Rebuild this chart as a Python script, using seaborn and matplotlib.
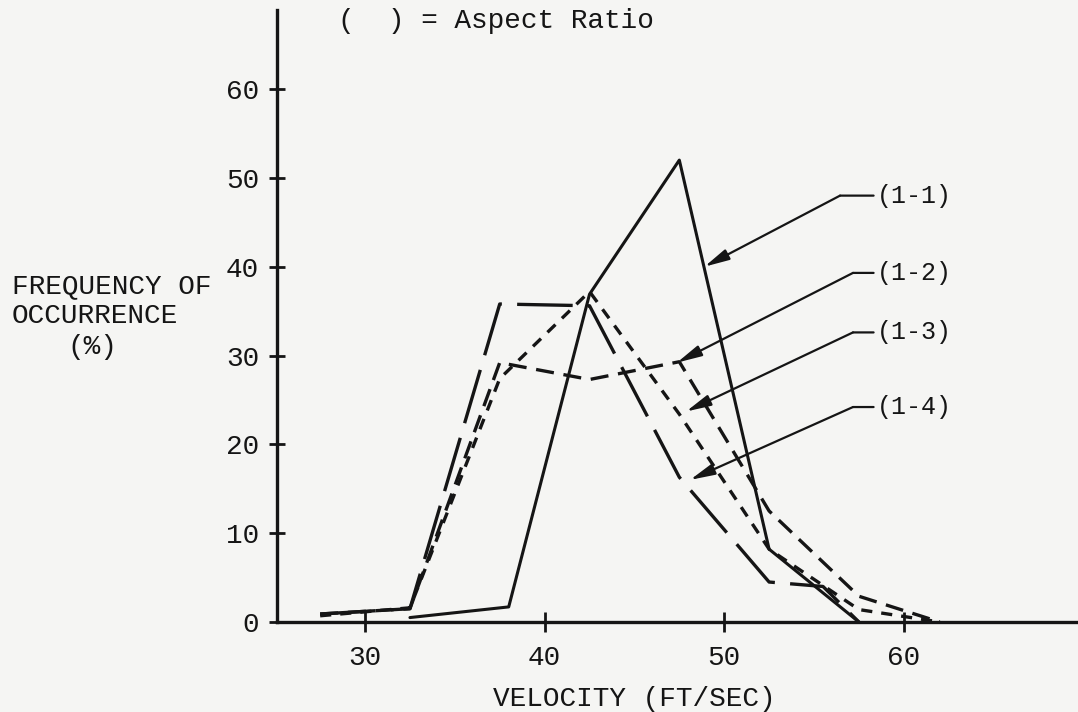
import matplotlib
matplotlib.use("Agg")
import matplotlib.pyplot as plt
import numpy as np
import pandas as pd
import seaborn as sns

# ---- data ----
velocity_11 = [32.5, 38.0, 42.5, 47.5, 52.5, 57.5]
freq_11 = [0.5, 1.7, 36.9, 52.0, 8.2, 0.0]

velocity_12 = [27.5, 32.5, 37.5, 42.5, 47.5, 52.5, 57.5, 62.0]
freq_12 = [0.9, 1.5, 29.2, 27.3, 29.3, 12.5, 2.9, 0.0]

velocity_13 = [27.5, 32.5, 37.5, 42.5, 47.5, 52.5, 57.5, 62.0]
freq_13 = [0.7, 1.6, 27.4, 37.2, 23.4, 8.2, 1.4, 0.0]

velocity_14 = [27.5, 32.5, 37.5, 42.5, 47.5, 52.5, 55.5, 57.5]
freq_14 = [0.9, 1.5, 35.8, 35.6, 16.3, 4.5, 4.0, 0.0]

series_labels = ["(1-1)", "(1-2)", "(1-3)", "(1-4)"]
x_ticks = [30, 40, 50, 60]
y_ticks = [0, 10, 20, 30, 40, 50, 60]

# label anchor (text row height) and arrow targets for the call-outs
label_rows = [48.0, 39.3, 32.6, 24.2]
arrow_tips_x = [48.9, 47.37, 47.88, 48.1]
arrow_tips_y = [40.0, 29.2, 23.7, 16.0]
corner_x = [56.45, 57.17, 57.17, 57.17]
label_x = 58.5

# ---- styling ----
sns.set_theme(style="ticks")
FONT = ["Liberation Mono", "DejaVu Sans Mono"]
plt.rcParams["font.family"] = FONT
plt.rcParams["lines.scale_dashes"] = False
INK = "#151515"
BG = "#f5f5f3"

fig = plt.figure(figsize=(10.78, 7.12), dpi=100)
fig.patch.set_facecolor(BG)
ax = fig.add_axes([0.257, 0.1264, 0.743, 0.8596])
ax.set_facecolor(BG)

styles = [
    dict(linestyle="-", lw=2.2),
    dict(linestyle=(0, (13, 7)), lw=2.4),
    dict(linestyle=(0, (8, 6.5)), lw=2.4),
    dict(linestyle=(0, (40, 11)), lw=2.4),
]
xs = [velocity_11, velocity_12, velocity_13, velocity_14]
ys = [freq_11, freq_12, freq_13, freq_14]

for lab, xv, yv, st in zip(series_labels, xs, ys, styles):
    df = pd.DataFrame({"velocity": xv, "freq": yv})
    sns.lineplot(data=df, x="velocity", y="freq", ax=ax, color=INK,
                 errorbar=None, legend=False, **st)

ax.set_xlim(25.1, 69.7)
ax.set_ylim(0, 68.9)
ax.set_xticks(x_ticks)
ax.set_yticks(y_ticks)
ax.set_xlabel("")
ax.set_ylabel("")
sns.despine(ax=ax)
for side in ["left", "bottom"]:
    ax.spines[side].set_linewidth(2.4)
    ax.spines[side].set_color(INK)
ax.tick_params(axis="y", direction="inout", length=11.5, width=2.0,
               colors=INK, labelsize=20, pad=7)
ax.tick_params(axis="x", direction="inout", length=14.5, width=2.0,
               colors=INK, labelsize=20, pad=9)
for t in ax.get_xticklabels() + ax.get_yticklabels():
    t.set_family(FONT)

# call-outs
for lab, row, tx, ty, cx in zip(series_labels, label_rows, arrow_tips_x,
                                arrow_tips_y, corner_x):
    ax.annotate("", xy=(tx, ty), xytext=(cx, row),
                arrowprops=dict(arrowstyle="-|>,head_length=0.75,head_width=0.17",
                                mutation_scale=20, color=INK, lw=1.6,
                                shrinkA=0, shrinkB=0))
    ax.annotate(lab, xy=(cx, row), xytext=(label_x, row),
                ha="left", va="center", fontsize=18, color=INK, family=FONT,
                arrowprops=dict(arrowstyle="-", color=INK, lw=1.6,
                                shrinkA=0, shrinkB=0, relpos=(0, 0.5)))

# texts
fig.text(338 / 1078, 1 - 21 / 712, "(  ) = Aspect Ratio", ha="left",
         va="center", fontsize=20, color=INK, family=FONT)
fig.text(12 / 1078, 1 - 286 / 712, "FREQUENCY OF", ha="left", va="center",
         fontsize=20, color=INK, family=FONT)
fig.text(12 / 1078, 1 - 316 / 712, "OCCURRENCE", ha="left", va="center",
         fontsize=20, color=INK, family=FONT)
fig.text(92 / 1078, 1 - 347 / 712, "(%)", ha="center", va="center",
         fontsize=20, color=INK, family=FONT)
fig.text(634 / 1078, 1 - 699 / 712, "VELOCITY (FT/SEC)", ha="center",
         va="center", fontsize=20, color=INK, family=FONT)

fig.savefig("out.png", dpi=100, facecolor=BG)
